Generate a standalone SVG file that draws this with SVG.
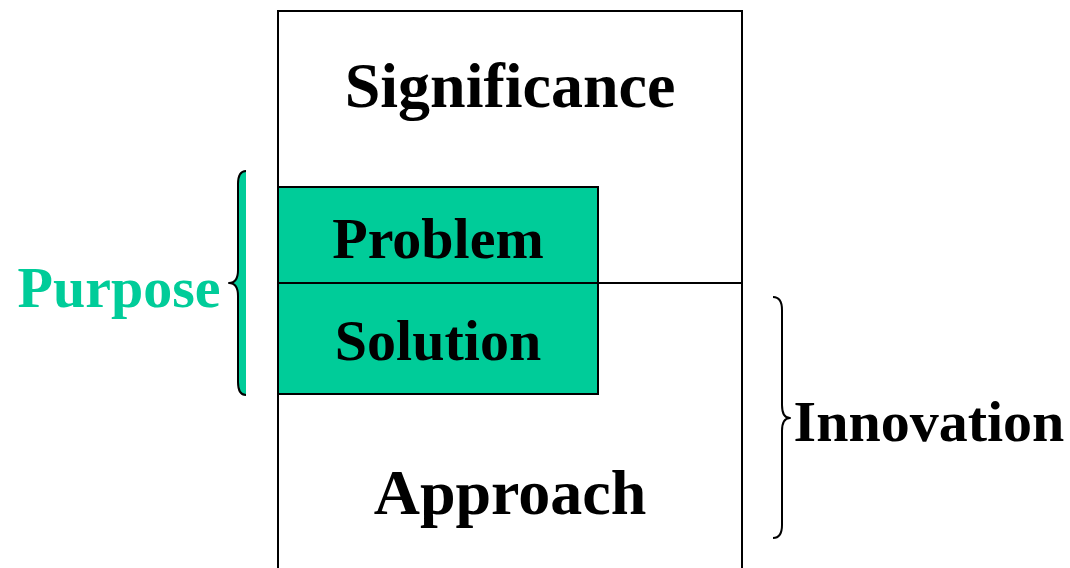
<svg xmlns="http://www.w3.org/2000/svg" width="1070" height="568" viewBox="0 0 1070 568">
  <style>
    .box { fill: #ffffff; stroke: #000000; stroke-width: 2; }
    .hl { fill: #00cc99; stroke: #000000; stroke-width: 2; }
    .brace { stroke: #000000; stroke-width: 2; stroke-linejoin: round; }
    .t { font-family: "Liberation Serif", "Times New Roman", serif; font-weight: bold; text-anchor: middle; fill: #000000; }
    .big { font-size: 64px; }
    .mid { font-size: 58px; }
  </style>

  <rect width="1070" height="568" fill="#ffffff"/>

  <!-- main column: upper and lower sections -->
  <g id="significance">
    <rect class="box" x="278" y="11" width="464" height="272"/>
    <text class="t big" x="510" y="107">Significance</text>
  </g>
  <g id="approach">
    <rect class="box" x="278" y="283" width="464" height="320"/>
    <text class="t big" x="510" y="514">Approach</text>
  </g>

  <!-- highlighted sub-blocks -->
  <g id="problem">
    <rect class="hl" x="278" y="187" width="320" height="96"/>
    <text class="t mid" x="438" y="258">Problem</text>
  </g>
  <g id="solution">
    <rect class="hl" x="278" y="283" width="320" height="111"/>
    <text class="t mid" x="438" y="360">Solution</text>
  </g>

  <!-- braces -->
  <g id="connectors">
    <path class="brace" fill="#00cc99" d="M246,171 C240,171 238,176 238,184 L238,270 C238,279 235,283 229,283 C235,283 238,287 238,296 L238,382 C238,390 240,395 246,395"/>
    <path class="brace" fill="none" d="M773,297 C779,297 782,302 782,310 L782,405 C782,414 785,418 790,418 C785,418 782,422 782,431 L782,525 C782,533 779,538 773,538"/>
  </g>

  <g id="purpose">
    <text class="t mid" x="119" y="307" style="fill:#00cc99">Purpose</text>
  </g>
  <g id="innovation">
    <text class="t mid" x="929" y="441">Innovation</text>
  </g>
</svg>
